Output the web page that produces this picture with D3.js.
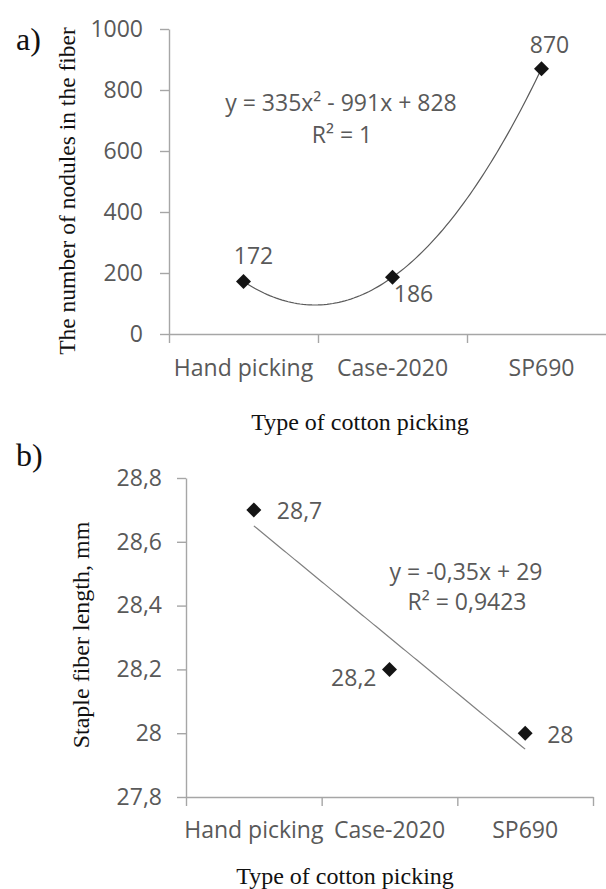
<!DOCTYPE html>
<html>
<head>
<meta charset="utf-8">
<script src="https://cdn.jsdelivr.net/npm/d3@7"></script>
<style>
  body { margin: 0; background: #fff; }
  svg { display: block; }
  .tick text, .lbl { font-family: "Open Sans", sans-serif; fill: #595959; }
  .ttl { font-family: "Liberation Serif", "Times New Roman", serif; fill: #111; }
</style>
</head>
<body>
<svg id="chart" width="606" height="889"></svg>
<script>
// data
const categories = ["Hand picking", "Case-2020", "SP690"];
const nodules = [172, 186, 870];
const nodulesTicks = [0, 200, 400, 600, 800, 1000];
const nodulesTrend = [335, -991, 828];      // y = a x^2 + b x + c
const nodulesEq = ["y = 335x\u00b2 - 991x + 828", "R\u00b2 = 1"];

const staple = [28.7, 28.2, 28];
const stapleTicks = [27.8, 28, 28.2, 28.4, 28.6, 28.8];
const stapleTrend = [-0.35, 29];            // y = a x + b
const stapleEq = ["y = -0,35x + 29", "R\u00b2 = 0,9423"];

const svg = d3.select("#chart");
const comma = d => String(+d.toFixed(1)).replace(".", ",");
const diamond = d3.symbol().type(d3.symbolSquare).size(112);

function panel(o) {
  const g = svg.append("g");
  const x = d3.scaleBand().domain(categories).range([o.x0, o.x1]).padding(0);
  const xi = d3.scaleLinear().domain([0, categories.length]).range([o.x0, o.x1]);
  const y = d3.scaleLinear().domain(o.domain).range([o.yBottom, o.yTop]);

  // y axis
  const ya = g.append("g").attr("transform", `translate(${o.x0},0)`)
    .call(d3.axisLeft(y).tickValues(o.ticks).tickFormat(o.fmt)
      .tickSize(9).tickSizeOuter(0).tickPadding(o.yPad));
  ya.selectAll("text").attr("font-size", 23);
  ya.selectAll("path,line").attr("stroke", "#a6a6a6").attr("stroke-width", 1.4);

  // x axis line with ticks at category borders
  const xa = g.append("g").attr("transform", `translate(0,${o.yBottom})`)
    .call(d3.axisBottom(xi).tickValues(d3.range(categories.length + 1))
      .tickFormat("").tickSize(9).tickSizeOuter(0));
  xa.selectAll("path,line").attr("stroke", "#a6a6a6").attr("stroke-width", 1.4);

  // category labels
  const xl = g.append("g").attr("transform", `translate(0,${o.yBottom})`)
    .call(d3.axisBottom(x).tickSize(0).tickPadding(o.xPad));
  xl.select(".domain").remove();
  xl.selectAll("text").attr("font-size", 23);

  // trendline
  const xs = d3.range(1, categories.length + 0.001, 0.02);
  const line = d3.line().x(v => xi(v - 0.5)).y(v => y(o.trend(v)));
  g.append("path").datum(xs).attr("d", line)
    .attr("fill", "none").attr("stroke", o.trendColor).attr("stroke-width", 1.2);

  // markers
  g.selectAll(".pt").data(o.values).join("path")
    .attr("class", "pt")
    .attr("d", diamond)
    .attr("transform", (d, i) => `translate(${x(categories[i]) + x.bandwidth() / 2},${y(d)}) rotate(45)`)
    .attr("fill", "#141414");

  // data labels
  g.selectAll(".dl").data(o.values).join("text")
    .attr("class", "lbl dl")
    .attr("font-size", 23)
    .attr("fill", "#404040")
    .attr("text-anchor", (d, i) => o.labels[i][2])
    .attr("x", (d, i) => x(categories[i]) + x.bandwidth() / 2 + o.labels[i][0])
    .attr("y", (d, i) => y(d) + o.labels[i][1])
    .attr("dy", "0.36em")
    .text(o.fmt);

  // equation
  g.selectAll(".eq").data(o.eq).join("text")
    .attr("class", "lbl eq")
    .attr("font-size", 23)
    .attr("fill", "#404040")
    .attr("text-anchor", "middle")
    .attr("x", (d, i) => o.eqPos[i][0])
    .attr("y", (d, i) => o.eqPos[i][1])
    .attr("dy", "0.36em")
    .text(d => d);

  // titles
  g.append("text").attr("class", "ttl").attr("font-size", 24)
    .attr("text-anchor", "middle")
    .attr("x", o.xTitle[0]).attr("y", o.xTitle[1])
    .text("Type of cotton picking");
  g.append("text").attr("class", "ttl").attr("font-size", o.yTitleSize)
    .attr("text-anchor", "middle")
    .attr("transform", `translate(${o.yTitle[0]},${o.yTitle[1]}) rotate(-90)`)
    .attr("dy", "0.32em")
    .text(o.yLabel);
  g.append("text").attr("class", "ttl").attr("font-size", 32)
    .attr("x", 16).attr("y", o.tag[1])
    .text(o.tag[0]);
}

panel({
  x0: 169, x1: 616, yBottom: 334, yTop: 29,
  domain: [0, 1000], ticks: nodulesTicks, fmt: d => d,
  values: nodules, yPad: 17, xPad: 26,
  trend: v => nodulesTrend[0] * v * v + nodulesTrend[1] * v + nodulesTrend[2],
  trendColor: "#5a5a5a",
  labels: [[10, -26, "middle"], [21, 16, "middle"], [8, -24, "middle"]],
  eq: nodulesEq, eqPos: [[341, 103], [342, 135]],
  xTitle: [360, 430], yTitle: [67, 191], yTitleSize: 23.5,
  yLabel: "The number of nodules in the fiber",
  tag: ["a)", 50]
});

panel({
  x0: 186, x1: 593, yBottom: 797, yTop: 478,
  domain: [27.8, 28.8], ticks: stapleTicks, fmt: comma,
  values: staple, yPad: 15, xPad: 24.5,
  trend: v => stapleTrend[0] * v + stapleTrend[1],
  trendColor: "#808080",
  labels: [[23, 1, "start"], [-13, 8, "end"], [22, 2, "start"]],
  eq: stapleEq, eqPos: [[466, 572], [467, 602]],
  xTitle: [345, 884], yTitle: [81, 635], yTitleSize: 24,
  yLabel: "Staple fiber length, mm",
  tag: ["b)", 466]
});
</script>
</body>
</html>
